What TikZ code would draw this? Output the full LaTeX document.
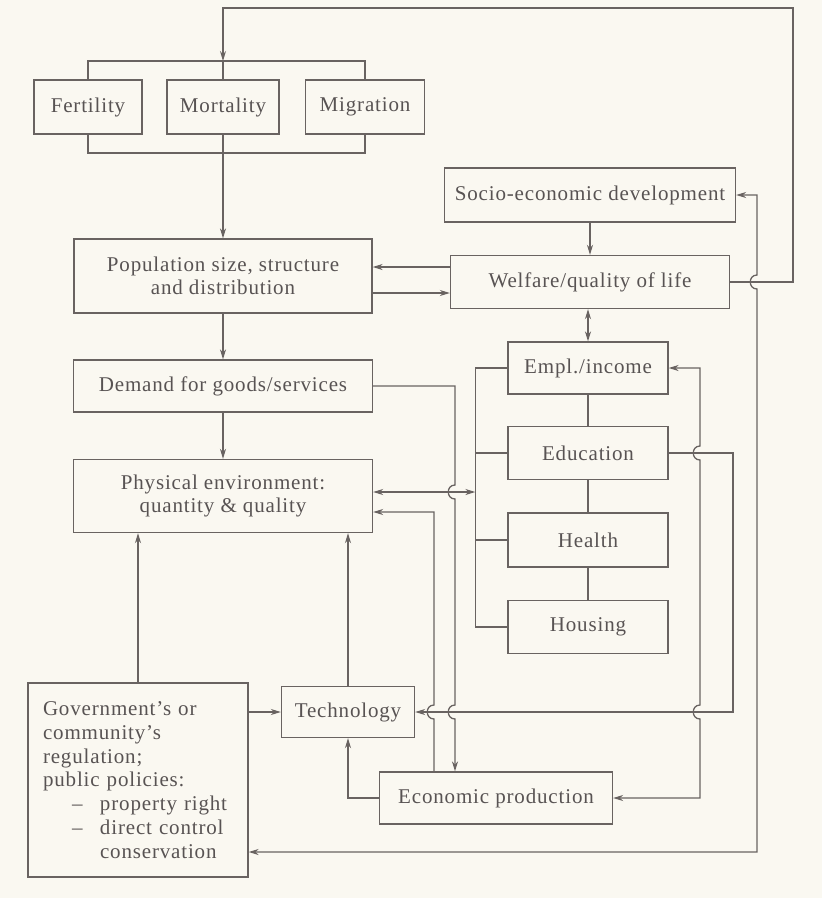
\documentclass[tikz,border=0pt]{standalone}
\usepackage{fontspec}
\setmainfont{Liberation Serif}[LetterSpace=4.0]
\definecolor{PaperTone}{RGB}{250,248,241}
\definecolor{InkLine}{RGB}{105,99,97}
\definecolor{InkText}{RGB}{88,83,83}
\usetikzlibrary{calc, arrows.meta}
\tikzset{
    box/.style={draw=InkLine, line width=1.3pt, text=InkText, align=center, inner sep=0pt},
    wh/.style 2 args={minimum width=#1pt, minimum height=#2pt},
    link/.style={draw=InkLine, line width=1.3pt},
    arr/.style={link, -{Stealth[length=10pt,width=6pt]}},
    arrs/.style={link, {Stealth[length=10pt,width=6pt]}-{Stealth[length=10pt,width=6pt]}}
}

\begin{document}
\begin{tikzpicture}[x=1pt, y=-1pt, font=\fontsize{21}{23.5}\selectfont]

\fill[PaperTone] (0,0) rectangle (822,898);
\useasboundingbox (0,0) rectangle (822,898);

% Cajas
\node[box, wh={108}{54}] (fert) at (88,107) {Fertility};
\node[box, wh={112}{54}] (mort) at (223,107) {Mortality};
\node[box, wh={119}{54}] (migr) at (365,107) {Migration};
\node[box, wh={291}{54}] (socio) at (590,195) {Socio-economic development};
\node[box, wh={298}{74}] (pop) at (223,276) {Population size, structure\\and distribution};
\node[box, wh={279}{53}] (welf) at (590,282) {Welfare/quality of life};
\node[box, wh={299}{52}] (demand) at (223,386) {Demand for goods/services};
\node[box, wh={299}{73}] (phys) at (223,496) {Physical environment:\\quantity \& quality};
\node[box, wh={160}{52}] (empl) at (588,368) {Empl./income};
\node[box, wh={160}{53}] (edu) at (588,453) {Education};
\node[box, wh={160}{54}] (health) at (588,540) {Health};
\node[box, wh={160}{53}] (housing) at (588,627) {Housing};
\node[box, wh={133}{51}] (tech) at (348,712) {Technology};
\node[box, wh={233}{52}] (econ) at (496,798) {Economic production};
\node[box, wh={220}{194}, align=left, text width=190pt,
      font=\fontsize{21}{23.8}\selectfont] (gov) at (138,780)
    {Government's or\\community's\\regulation;\\public policies:\\
     \hspace*{29pt}\makebox[28pt][l]{--}property right\\
     \hspace*{29pt}\makebox[28pt][l]{--}direct control\\
     \hspace*{57pt}conservation};

% Puntos auxiliares
\coordinate (brT) at (223,61);
\coordinate (brB) at (223,153);
\coordinate (loopR) at (793,8);
\coordinate (busR) at (757,852);
\coordinate (colA) at (434,0);
\coordinate (colB) at (455,0);
\coordinate (colC) at (700,0);
\coordinate (colD) at (733,0);
\coordinate (brL) at ($(empl.west)+(-32,0)$);
\coordinate (pe1) at ($(phys.east)+(0,-4)$);
\coordinate (pe2) at ($(phys.east)+(0,16)$);
\coordinate (wp1) at ($(welf.west)+(0,-15)$);
\coordinate (wp2) at ($(welf.west)+(0,11)$);

% Corchetes de fertilidad, mortalidad y migración
\draw[link] (fert.north) |- (brT) -| (migr.north);
\draw[link] (brT) -- (mort.north);
\draw[link] (fert.south) |- (brB) -| (migr.south);
\draw[link] (mort.south) -- (brB);
\draw[arr] (brB) -- (pop.north);

% Bucle superior
\draw[arr] (welf.east) -| (loopR) -| (brT);

% Bus derecho con salto
\draw[arrs] (socio.east) -- (socio.east -| busR)
    -- ($(welf.east -| busR)+(0,-7)$) .. controls +(-9,0) and +(-9,0) .. ($(welf.east -| busR)+(0,7)$)
    -- (busR) -- (busR -| gov.east);

% Flechas centrales
\draw[arr] (socio.south) -- (welf.north);
\draw[arr] (wp1) -- (wp1 -| pop.east);
\draw[arr] (wp2 -| pop.east) -- (wp2);
\draw[arrs] (welf.south -| empl.north) -- (empl.north);
\draw[arr] (pop.south) -- (demand.north);
\draw[arr] (demand.south) -- (phys.north);

% Bloque social
\draw[link] (empl.south) -- (edu.north);
\draw[link] (edu.south) -- (health.north);
\draw[link] (health.south) -- (housing.north);
\draw[link] (empl.west) -- (brL) |- (housing.west);
\draw[link] (edu.west) -- (edu.west -| brL);
\draw[link] (health.west) -- (health.west -| brL);
\draw[arrs] (pe1) -- (pe1 -| brL);

% Líneas verticales con saltos
\draw[arr] (demand.east) -- (demand.east -| colB)
    -- ($(pe1 -| colB)+(0,-7)$) .. controls +(-9,0) and +(-9,0) .. ($(pe1 -| colB)+(0,7)$)
    -- ($(tech.east -| colB)+(0,-7)$) .. controls +(-9,0) and +(-9,0) .. ($(tech.east -| colB)+(0,7)$)
    -- (econ.north -| colB);
\draw[arr] (econ.north -| colA)
    -- ($(tech.east -| colA)+(0,7)$) .. controls +(-9,0) and +(-9,0) .. ($(tech.east -| colA)+(0,-7)$)
    -- (pe2 -| colA) -- (pe2);
\draw[arrs] (econ.east) -- (econ.east -| colC)
    -- ($(tech.east -| colC)+(0,7)$) .. controls +(-9,0) and +(-9,0) .. ($(tech.east -| colC)+(0,-7)$)
    -- ($(edu.east -| colC)+(0,7)$) .. controls +(-9,0) and +(-9,0) .. ($(edu.east -| colC)+(0,-7)$)
    -- (empl.east -| colC) -- (empl.east);
\draw[arr] (edu.east) -| (tech.east -| colD) -- (tech.east);

% Gobierno y tecnología
\draw[arr] (gov.east |- tech.west) -- (tech.west);
\draw[arr] (gov.north) -- (gov.north |- phys.south);
\draw[arr] (tech.north) -- (tech.north |- phys.south);
\draw[arr] (econ.west) -| (tech.south);

\end{tikzpicture}
\end{document}
